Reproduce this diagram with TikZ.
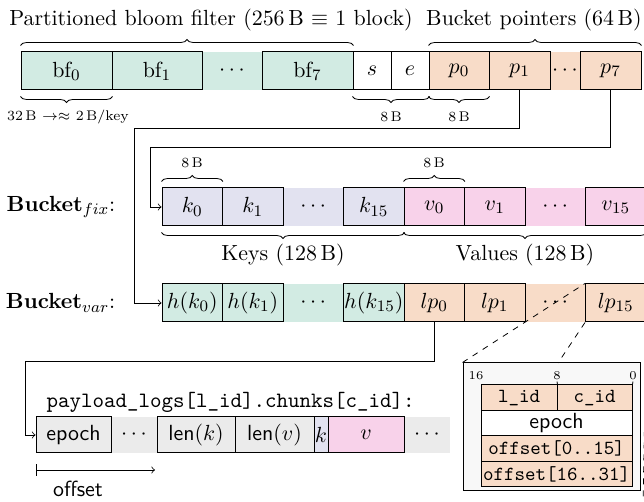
\documentclass[11pt,tikz,border=0pt]{standalone}
\usepackage{fontspec}
\usetikzlibrary{decorations.pathreplacing}

\definecolor{bfgreen}{HTML}{D2EBE3}
\definecolor{ptrorange}{HTML}{F8DCC8}
\definecolor{keyblue}{HTML}{E2E2F0}
\definecolor{valpink}{HTML}{F8D2EA}
\definecolor{loggray}{HTML}{EBEBEB}
\definecolor{insetgray}{HTML}{F8F8F8}

% name, left x, right x, centre y, style, text
\newcommand{\mkcell}[6]{\node[#5, minimum width={(#3-#2)*0.5pt}] (#1) at ({(#2+#3)/2},#4) {#6};}

\begin{document}
\begin{tikzpicture}[x=0.5pt, y=-0.5pt,
  cell/.style={draw, line width=0.5pt, minimum height=19pt, inner sep=0pt},
  gap/.style={minimum height=19pt, inner sep=0pt},
  logcell/.style={cell, minimum height=18pt},
  loggap/.style={gap, minimum height=18pt},
  regcell/.style={draw, line width=0.5pt, minimum height=12.75pt, inner sep=0pt, font=\fontsize{10}{12}\selectfont\ttfamily},
  brc/.style={decorate, decoration={brace, amplitude=3pt}},
  brcm/.style={decorate, decoration={brace, amplitude=3pt, mirror}},
  small/.style={font=\fontsize{7}{8}\selectfont},
  bits/.style={font=\fontsize{6}{7}\selectfont, inner sep=0.5pt},
  ptr/.style={->},
  zoomline/.style={dashed}]
\useasboundingbox (0,0) rectangle (644,502);

% block: bloom filter, s/e, bucket pointers
\fill[bfgreen] (21,52) rectangle (353,90);
\fill[ptrorange] (429,52) rectangle (641,90);
\mkcell{bf0}{21}{112}{71}{cell}{$\mathrm{bf}_0$}
\mkcell{bf1}{112}{202}{71}{cell}{$\mathrm{bf}_1$}
\mkcell{bfdots}{202}{262}{71}{gap}{$\cdots$}
\mkcell{bf7}{262}{353}{71}{cell}{$\mathrm{bf}_7$}
\mkcell{s}{353}{391}{71}{cell}{$s$}
\mkcell{e}{391}{429}{71}{cell}{$e$}
\mkcell{p0}{429}{489}{71}{cell}{$p_0$}
\mkcell{p1}{489}{550}{71}{cell}{$p_1$}
\mkcell{pdots}{550}{580}{71}{gap}{$\cdots$}
\mkcell{p7}{580}{641}{71}{cell}{$p_7$}

\node (bftitle) at (211,20) {Partitioned bloom filter (256\,B $\equiv$ 1 block)};
\node (ptrtitle) at (534,20) {Bucket pointers (64\,B)};
\draw[brc] ([yshift=3pt]bf0.north west) -- ([yshift=3pt]bf7.north east);
\draw[brc] ([yshift=3pt]p0.north west) -- ([yshift=3pt]p7.north east);
\draw[brcm] ([yshift=-3pt]bf0.south west) -- ([yshift=-3pt]bf0.south east);
\draw[brcm] ([yshift=-3pt]s.south west) -- ([yshift=-3pt]e.south east);
\draw[brcm] ([yshift=-3pt]p0.south west) -- ([yshift=-3pt]p0.south east);
\node[small] (bfsize) at (68,117) {32\,B $\rightarrow\approx$ 2\,B/key};
\node[small] (sesize) at (391,117) {8\,B};
\node[small] (p0size) at (459,117) {8\,B};

% fixed-size bucket
\node[anchor=east] (fixlabel) at (123,207) {\textbf{Bucket}$_{fix}$:};
\fill[keyblue] (162,188) rectangle (404,226);
\fill[valpink] (404,188) rectangle (646,226);
\mkcell{k0}{162}{222.5}{207}{cell}{$k_0$}
\mkcell{k1}{222.5}{283}{207}{cell}{$k_1$}
\mkcell{kdots}{283}{343.5}{207}{gap}{$\cdots$}
\mkcell{k15}{343.5}{404}{207}{cell}{$k_{15}$}
\mkcell{v0}{404}{464.5}{207}{cell}{$v_0$}
\mkcell{v1}{464.5}{525}{207}{cell}{$v_1$}
\mkcell{vdots}{525}{585.5}{207}{gap}{$\cdots$}
\mkcell{v15}{585.5}{646}{207}{cell}{$v_{15}$}

\draw[brc] ([yshift=3pt]k0.north west) -- ([yshift=3pt]k0.north east);
\draw[brc] ([yshift=3pt]v0.north west) -- ([yshift=3pt]v0.north east);
\node[small] (k0size) at (192,163) {8\,B};
\node[small] (v0size) at (434,163) {8\,B};
\draw[brcm] ([yshift=-3pt]k0.south west) -- ([yshift=-3pt]k15.south east);
\draw[brcm] ([yshift=-3pt]v0.south west) -- ([yshift=-3pt]v15.south east);
\node (keyslabel) at (283,255) {Keys (128\,B)};
\node (valslabel) at (525,255) {Values (128\,B)};

% variable-size bucket
\node[anchor=east] (varlabel) at (123,303) {\textbf{Bucket}$_{var}$:};
\fill[bfgreen] (162,284) rectangle (404,322);
\fill[ptrorange] (404,284) rectangle (646,322);
\mkcell{hk0}{162}{222.5}{303}{cell}{$h(k_0)$}
\mkcell{hk1}{222.5}{283}{303}{cell}{$h(k_1)$}
\mkcell{hdots}{283}{343.5}{303}{gap}{$\cdots$}
\mkcell{hk15}{343.5}{404}{303}{cell}{$h(k_{15})$}
\mkcell{lp0}{404}{464.5}{303}{cell}{$lp_0$}
\mkcell{lp1}{464.5}{525}{303}{cell}{$lp_1$}
\mkcell{lpdots}{525}{585.5}{303}{gap}{$\cdots$}
\mkcell{lp15}{585.5}{646}{303}{cell}{$lp_{15}$}

% pointers
\coordinate (p1bend) at (134,128);
\draw[ptr] (p1.south) |- (p1bend) |- (hk0.west);
\coordinate (p7bend) at (150,147);
\draw[ptr] (p7.south) |- (p7bend) |- (k0.west);

% payload log chunk
\node[anchor=west, font=\ttfamily] (loglabel) at (39,402) {payload\_logs[l\_id].chunks[c\_id]:};
\fill[loggray] (36,417) rectangle (450,453);
\mkcell{epoch}{36}{111}{435}{logcell}{\sffamily epoch}
\mkcell{logdots}{111}{157}{435}{loggap}{$\cdots$}
\mkcell{lenk}{157}{235}{435}{logcell}{{\sffamily len}$(k)$}
\mkcell{lenv}{235}{314}{435}{logcell}{{\sffamily len}$(v)$}
\mkcell{logk}{314}{328}{435}{logcell, fill=keyblue}{$k$}
\mkcell{logv}{328}{404}{435}{logcell, fill=valpink}{$v$}
\mkcell{logend}{404}{450}{435}{loggap}{$\cdots$}

\coordinate (lp0bend) at (25,361);
\draw[ptr] (lp0.south) |- (lp0bend) |- (epoch.west);

\coordinate (offstart) at (36,470);
\coordinate (offend) at (155,470);
\draw[|->] (offstart) -- (offend);
\node[font=\sffamily, inner sep=1pt] (offlabel) at (78,489) {offset};

% log pointer layout
\node[draw, line width=0.5pt, fill=insetgray, minimum width=88.5pt, minimum height=64pt, inner sep=0pt] (inset) at (551.5,427) {};
\mkcell{lid}{481}{557}{397.75}{regcell, fill=ptrorange}{l\_id}
\mkcell{cid}{557}{632}{397.75}{regcell, fill=ptrorange}{c\_id}
\mkcell{ep}{481}{632}{423.25}{regcell, fill=white, font=\sffamily}{epoch}
\mkcell{offlo}{481}{632}{448.75}{regcell, fill=ptrorange}{offset[0..15]}
\mkcell{offhi}{481}{632}{474.25}{regcell, fill=ptrorange}{offset[16..31]}
\node[bits] (b16) at (476,376) {16};
\node[bits] (b8) at (557,376) {8};
\node[bits] (b0) at (633,376) {0};
\draw (b8.south) -- (lid.north east);
\draw (b0.south) -- (cid.north east);

\draw[zoomline] (inset.north west) -- (lp15.north west);
\coordinate (insetmid) at (558,363);
\draw[zoomline] (lp15.south west) -- (insetmid);
\coordinate (insetfar) at (643,505);
\draw[zoomline] (lp15.south east) -- (insetfar);
\end{tikzpicture}
\end{document}
